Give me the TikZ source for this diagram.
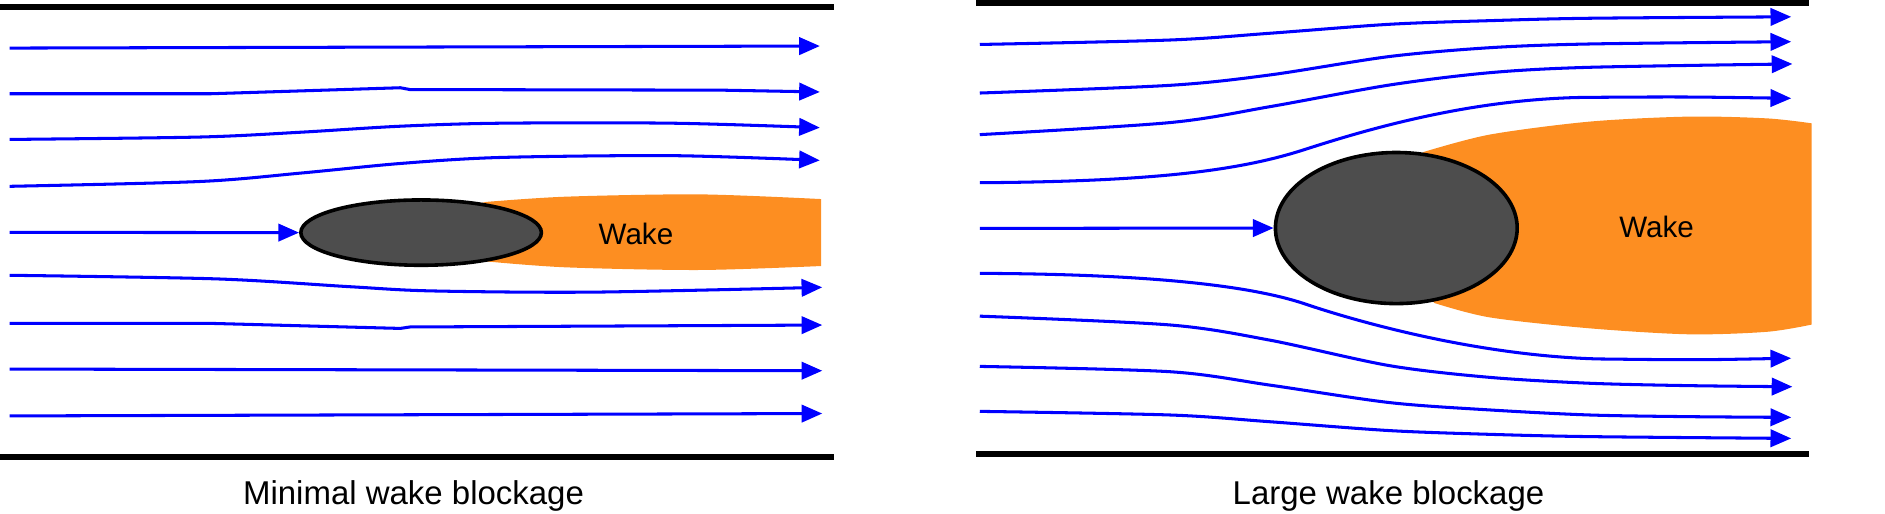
\documentclass[tikz,border=0pt]{standalone}
\usepackage{fontspec}
\setmainfont{Liberation Sans}
\usetikzlibrary{arrows.meta,shapes.geometric}
\definecolor{wakeorange}{RGB}{253,142,33}
\definecolor{bodygray}{RGB}{77,77,77}
\tikzstyle{flow}=[draw=blue, line width=0.72pt, -{Triangle[length=4.9pt,width=4.1pt]}]
\tikzstyle{wall}=[draw=black, line width=1.45pt]
\tikzstyle{bluff}=[ellipse, draw=black, line width=0.85pt, fill=bodygray, inner sep=0pt]
\tikzstyle{wakelabel}=[inner sep=0pt, font=\fontsize{7}{8}\selectfont]
\tikzstyle{caption}=[inner sep=0pt, anchor=base, font=\fontsize{7.8}{9}\selectfont]
\newcommand{\bluff}{\node[bluff]}

\begin{document}
\begin{tikzpicture}[x=0.01cm, y=-0.01cm]
            \useasboundingbox (0,0) rectangle (1568,426.8);
            % wakes, under the bodies
            \fill[wakeorange] (360,180) -- plot[smooth] coordinates {(404,168) (471,163.6) (582,161.7) (683,165.6)}
                -- (683,221.3) -- plot[smooth] coordinates {(683,221.3) (582,224.6) (471,222.4) (405,217.5)}
                -- (360,210) -- cycle;
            \fill[wakeorange] (1170,160) -- plot[smooth] coordinates {(1184,126.5) (1239,112) (1322,101.2) (1405,97) (1470,98.5) (1507,102.6)}
                -- (1507,270) -- plot[smooth] coordinates {(1507,270) (1470,276) (1405,278.1) (1322,273.1) (1239,264) (1193,252)}
                -- (1170,220) -- cycle;
            \bluff[minimum width=2cm, minimum height=0.543cm] (bodyL) at (350.3,193.5){};
            \bluff[minimum width=2.01cm, minimum height=1.256cm] (bodyR) at (1161.5,189.7){};
            \node[wakelabel] (wakeL) at (529,194.7) {Wake};
            \node[wakelabel] (wakeR) at (1378,188.6) {Wake};
            % walls
            \draw[wall] (0,5.8) -- (694,5.8);
            \draw[wall] (0,380.5) -- (694,380.5);
            \draw[wall] (812,2.8) -- (1505,2.8);
            \draw[wall] (812,377.5) -- (1505,377.5);
            % minimal blockage
            \coordinate (inL) at (8,193.3);
            \draw[flow] (inL) -- (bodyL.west);
            \draw[flow] (8,40) -- (682,38.3);
            \draw[flow] (8,78) -- (175,78) -- (333,73) -- (341,74.5) -- (600,75) -- (682,76.5);
            \draw[flow] plot[smooth] coordinates {(8,116) (166,114) (250,110) (333,105) (416,102.5) (560,102.5) (682,106.2)};
            \draw[flow] plot[smooth] coordinates {(8,155) (166,151) (250,144) (333,136) (416,131) (560,129.5) (682,133.4)};
            \draw[flow] plot[smooth] coordinates {(8,229) (180,232) (291,238.5) (359,242) (494,243) (684,239)};
            \draw[flow] (8,269) -- (175,269) -- (333,273.2) -- (341,272) -- (684,270.4);
            \draw[flow] (8,307) -- (684,308.4);
            \draw[flow] (8,346) -- (684,344);
            % large blockage
            \coordinate (inR) at (815,190);
            \draw[flow] (inR) -- (bodyR.west);
            \draw[flow] plot[smooth] coordinates {(815,37) (973,33.3) (1056,27.7) (1156,20.2) (1239,17.2) (1322,15.2) (1490,14)};
            \draw[flow] plot[smooth] coordinates {(815,77.4) (973,71) (1056,62.4) (1156,47) (1239,39.7) (1322,36.6) (1490,34.7)};
            \draw[flow] plot[smooth] coordinates {(815,112) (973,102) (1056,88.8) (1156,70.7) (1239,60.5) (1322,56) (1491,53.2)};
            \draw[flow] (815,152) .. controls (960,151) and (1030,142) .. (1084,124.8)
                .. controls (1130,110) and (1220,82) .. (1320,81) .. controls (1400,80.5) .. (1490,81.8);
            \draw[flow] (815,227.4) .. controls (960,228) and (1040,238) .. (1084,252.3)
                .. controls (1130,268) and (1230,296) .. (1330,298.6) .. controls (1410,299.5) .. (1490,298);
            \draw[flow] plot[smooth] coordinates {(815,263) (973,270.3) (1056,282.9) (1156,304.2) (1239,313.9) (1322,318.8) (1405,320.8) (1491,321.7)};
            \draw[flow] plot[smooth] coordinates {(815,304.8) (973,309.2) (1056,320.3) (1156,334.9) (1239,341) (1322,345.2) (1405,346.6) (1490,347.2)};
            \draw[flow] plot[smooth] coordinates {(815,342.2) (973,345.2) (1056,350.8) (1156,358.2) (1239,361.3) (1322,363.2) (1490,364.7)};
            % captions
            \node[caption] (capL) at (344,419.6) {Minimal wake blockage};
            \node[caption] (capR) at (1155,419.6) {Large wake blockage};
        \end{tikzpicture}
\end{document}
